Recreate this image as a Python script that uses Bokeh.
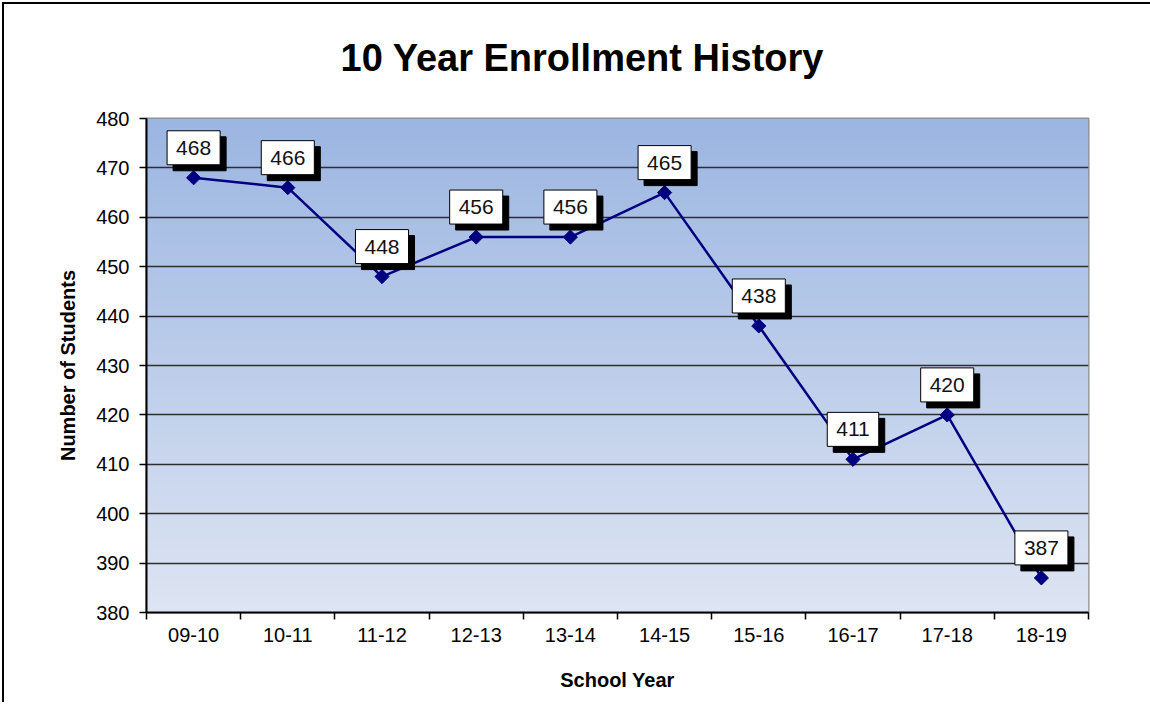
import numpy as np
from bokeh.plotting import figure
from bokeh.models import Range1d, FixedTicker, Title, ColumnDataSource
from bokeh.core.properties import value
from bokeh.embed import file_html
from bokeh.resources import INLINE

# ---- data ----
years = ["09-10", "10-11", "11-12", "12-13", "13-14",
         "14-15", "15-16", "16-17", "17-18", "18-19"]
students = [468, 466, 448, 456, 456, 465, 438, 411, 420, 387]
y_ticks = [380, 390, 400, 410, 420, 430, 440, 450, 460, 470, 480]
title_text = "10 Year Enrollment History"
x_title = "School Year"
y_title = "Number of Students"

FONT = "Liberation Sans"
NAVY = "#000080"

x_pos = [i + 0.5 for i in range(len(years))]
src = ColumnDataSource(dict(x=x_pos, y=students, label=[str(v) for v in students]))

p = figure(width=1160, height=700, output_backend="svg", toolbar_location=None,
           x_range=Range1d(0, len(years)), y_range=Range1d(y_ticks[0], y_ticks[-1]),
           min_border_left=142, min_border_right=76, min_border_top=114,
           min_border_bottom=92)
p.background_fill_color = "#BCCDEA"
p.border_fill_color = "white"
p.outline_line_color = "#8c8c8c"
p.outline_line_width = 2
p.styles = {"border-left": "2px solid black", "border-top": "2px solid black",
            "margin-left": "2px", "margin-top": "2px"}

# title (outermost) and a spacer title between it and the plot area
p.title.text = title_text
p.title.align = "left"
p.title.offset = 194
p.title.text_font = FONT
p.title.text_font_size = "38px"
p.title.text_font_style = "bold"
p.title.text_color = "black"
p.title.standoff = 10
p.add_layout(Title(text=" ", text_font_size="30px", standoff=0), "above")

# gradient background of the plot area (style only)
n = 256
top = np.array([156, 182, 226], dtype=float)
bot = np.array([222, 229, 243], dtype=float)
t = np.linspace(0.0, 1.0, n)[:, None]
rgb = bot + (top - bot) * t
img = np.zeros((n, 1), dtype=np.uint32)
view = img.view(dtype=np.uint8).reshape((n, 1, 4))
view[:, 0, 0:3] = rgb.astype(np.uint8)
view[:, 0, 3] = 255
p.image_rgba(image=[img], x=0, y=y_ticks[0], dw=len(years),
             dh=y_ticks[-1] - y_ticks[0], level="image")

# grid
p.xgrid.visible = False
p.ygrid.ticker = FixedTicker(ticks=y_ticks)
p.ygrid.grid_line_color = "#2e2e2e"
p.ygrid.grid_line_width = 1.5

# y axis
ya = p.yaxis[0]
ya.ticker = FixedTicker(ticks=y_ticks)
ya.axis_line_color = "black"
ya.axis_line_width = 2
ya.major_tick_out = 7
ya.major_tick_in = 0
ya.major_tick_line_color = "black"
ya.major_tick_line_width = 1.5
ya.minor_tick_line_color = None
ya.major_label_standoff = 10
ya.major_label_text_font = FONT
ya.major_label_text_font_size = "20px"
ya.major_label_text_color = "black"
ya.axis_label = y_title
ya.axis_label_text_font = FONT
ya.axis_label_text_font_size = "20px"
ya.axis_label_text_font_style = "bold"
ya.axis_label_text_color = "black"
ya.axis_label_standoff = 14

# x axis
xa = p.xaxis[0]
xa.ticker = FixedTicker(ticks=x_pos, minor_ticks=list(range(len(years) + 1)))
xa.major_label_overrides = {xp: yr for xp, yr in zip(x_pos, years)}
xa.axis_line_color = "black"
xa.axis_line_width = 2
xa.major_tick_line_color = None
xa.major_tick_out = 7
xa.major_tick_in = 0
xa.minor_tick_line_color = "black"
xa.minor_tick_line_width = 1.5
xa.minor_tick_out = 7
xa.minor_tick_in = 0
xa.major_label_standoff = 8
xa.major_label_text_font = FONT
xa.major_label_text_font_size = "20px"
xa.major_label_text_color = "black"
xa.axis_label = x_title
xa.axis_label_text_font = FONT
xa.axis_label_text_font_size = "20px"
xa.axis_label_text_font_style = "bold"
xa.axis_label_text_color = "black"
xa.axis_label_standoff = 24

# series
p.line("x", "y", source=src, line_color=NAVY, line_width=2.5)
p.scatter("x", "y", source=src, marker="square", angle=np.pi / 4, size=10,
          fill_color=NAVY, line_color=NAVY)

# data labels: shadow then box
common = dict(source=src, text_align="center", text_baseline="middle",
              text_font=value(FONT), text_font_size="21px",
              padding=dict(left=9, right=9, top=10, bottom=10))
p.text("x", "y", "label", x_offset=6, y_offset=-24, text_color="black",
       background_fill_color="black", border_line_color="black", **common)
p.text("x", "y", "label", x_offset=0, y_offset=-30, text_color="#111111",
       background_fill_color="white", border_line_color="black",
       border_line_width=1, **common)

open("out.html", "w").write(file_html(p, INLINE))
